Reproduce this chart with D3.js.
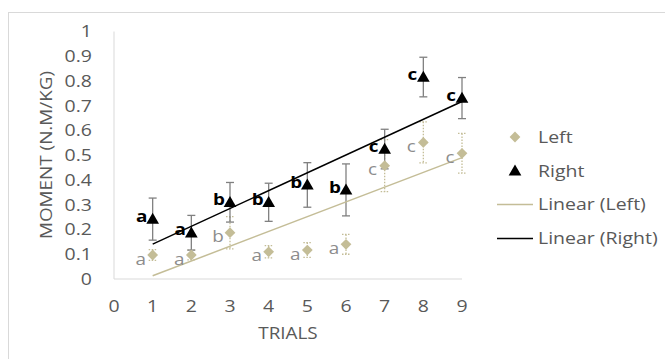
<!DOCTYPE html>
<html><head><meta charset="utf-8">
<script src="https://cdn.jsdelivr.net/npm/d3@7"></script>
<style>
html,body{margin:0;padding:0;background:#fff;}
svg{display:block;font-family:"Open Sans",sans-serif;}
</style></head>
<body>
<svg id="chart" width="665" height="359"></svg>
<script>
const trials = [1,2,3,4,5,6,7,8,9];
const leftValues = [0.097,0.097,0.187,0.11,0.117,0.14,0.458,0.552,0.508];
const leftErrors = [0.022,0.02,0.065,0.025,0.03,0.04,0.105,0.083,0.08];
const leftLabels = ["a","a","b","a","a","a","c","c","c"];
const rightValues = [0.242,0.187,0.31,0.31,0.38,0.36,0.525,0.816,0.731];
const rightErrors = [0.085,0.07,0.08,0.077,0.09,0.105,0.08,0.08,0.083];
const rightLabels = ["a","a","b","b","b","b","c","c","c"];
const xTicks = [0,1,2,3,4,5,6,7,8,9];
const yTicks = [0,0.1,0.2,0.3,0.4,0.5,0.6,0.7,0.8,0.9,1];
const legendItems = ["Left","Right","Linear (Left)","Linear (Right)"];

const tan = "#c4bd97", grayTxt = "#595959";
const svg = d3.select("#chart");
const STRETCH = 1.18;
function stretch(sel){
  sel.each(function(){
    const L=this.getComputedTextLength();
    d3.select(this).attr("textLength",L*STRETCH).attr("lengthAdjust","spacingAndGlyphs");
  });
}

svg.append("rect").attr("x",8.5).attr("y",12.5).attr("width",700).attr("height",400)
  .attr("fill","none").attr("stroke","#d9d9d9");

const x = d3.scaleLinear().domain([0,9]).range([114,462]);
const y = d3.scaleLinear().domain([0,1]).range([279,31.5]);

svg.append("line").attr("x1",x(0)).attr("x2",x(9)).attr("y1",y(0)).attr("y2",y(0)).attr("stroke","#d9d9d9");
svg.append("line").attr("x1",x(0)).attr("x2",x(0)).attr("y1",y(0)).attr("y2",y(1)).attr("stroke","#d9d9d9");

const fs = 16.5;
svg.selectAll(".yt").data(yTicks).join("text")
  .attr("x",92).attr("y",d=>y(d)).attr("dy","0.35em").attr("text-anchor","end")
  .attr("font-size",fs).attr("fill",grayTxt).text(d=>d3.format("")(d)).call(stretch);
svg.selectAll(".xt").data(xTicks).join("text")
  .attr("x",d=>x(d)).attr("y",306).attr("dy","0.35em").attr("text-anchor","middle")
  .attr("font-size",fs).attr("fill",grayTxt).text(d=>d).call(stretch);

svg.append("text").attr("transform","translate(46,155) rotate(-90)").attr("text-anchor","middle")
  .attr("dy","0.35em").attr("font-size",16).attr("fill",grayTxt).text("MOMENT (N.M/KG)").call(stretch);
svg.append("text").attr("x",288).attr("y",333).attr("dy","0.35em").attr("text-anchor","middle")
  .attr("font-size",16).attr("fill",grayTxt).text("TRIALS").call(stretch);

function fit(vals){
  const mx=d3.mean(trials), my=d3.mean(vals);
  const b=d3.sum(trials,(t,i)=>(t-mx)*(vals[i]-my))/d3.sum(trials,t=>(t-mx)**2);
  return t=>my+b*(t-mx);
}
const fl=fit(leftValues), fr=fit(rightValues);
const line = d3.line().x(d=>x(d[0])).y(d=>y(d[1]));
const ends=[trials[0],trials[trials.length-1]];

trials.forEach((t,i)=>{
  const g=svg.append("g").attr("stroke",tan).attr("stroke-width",1.3).attr("stroke-dasharray","1.5,1.5");
  g.append("line").attr("x1",x(t)).attr("x2",x(t)).attr("y1",y(leftValues[i]+leftErrors[i])).attr("y2",y(leftValues[i]-leftErrors[i]));
  [1,-1].forEach(s=>g.append("line").attr("x1",x(t)-4).attr("x2",x(t)+4)
    .attr("y1",y(leftValues[i]+s*leftErrors[i])).attr("y2",y(leftValues[i]+s*leftErrors[i])));
});
trials.forEach((t,i)=>{
  const g=svg.append("g").attr("stroke","#808080").attr("stroke-width",1.3);
  g.append("line").attr("x1",x(t)).attr("x2",x(t)).attr("y1",y(rightValues[i]+rightErrors[i])).attr("y2",y(rightValues[i]-rightErrors[i]));
  [1,-1].forEach(s=>g.append("line").attr("x1",x(t)-4).attr("x2",x(t)+4)
    .attr("y1",y(rightValues[i]+s*rightErrors[i])).attr("y2",y(rightValues[i]+s*rightErrors[i])));
});

svg.append("path").attr("d",line(ends.map(t=>[t,fl(t)]))).attr("stroke",tan).attr("stroke-width",1.5).attr("fill","none");
svg.append("path").attr("d",line(ends.map(t=>[t,fr(t)]))).attr("stroke","#000").attr("stroke-width",1.5).attr("fill","none");

const diamond = d3.symbol().type(d3.symbolSquare).size(58);
const tri = d3.symbol().type(d3.symbolTriangle).size(70);

svg.selectAll(".lm").data(trials).join("path")
  .attr("d",diamond).attr("fill",tan)
  .attr("transform",(t,i)=>`translate(${x(t)},${y(leftValues[i])}) rotate(45)`);
svg.selectAll(".rm").data(trials).join("path")
  .attr("d",tri).attr("fill","#000")
  .attr("transform",(t,i)=>`translate(${x(t)},${y(rightValues[i])+1})`);

svg.selectAll(".ll").data(trials).join("text")
  .attr("x",t=>x(t)-12).attr("y",(t,i)=>y(leftValues[i])+4).attr("dy","0.35em")
  .attr("text-anchor","middle").attr("font-size",16).attr("fill","#8c8c8c")
  .text((t,i)=>leftLabels[i]).call(stretch);
svg.selectAll(".rl").data(trials).join("text")
  .attr("x",t=>x(t)-11).attr("y",(t,i)=>y(rightValues[i])-3).attr("dy","0.35em")
  .attr("text-anchor","middle").attr("font-size",16).attr("font-weight","bold").attr("fill","#000")
  .text((t,i)=>rightLabels[i]).call(stretch);

const leg = svg.append("g");
legendItems.forEach((name,i)=>{
  const ly = 137 + i*33.8;
  if(i===0) leg.append("path").attr("d",diamond).attr("fill",tan).attr("transform",`translate(515,${ly}) rotate(45)`);
  if(i===1) leg.append("path").attr("d",tri).attr("fill","#000").attr("transform",`translate(515,${ly+1})`);
  if(i===2) leg.append("line").attr("x1",497).attr("x2",533).attr("y1",ly).attr("y2",ly).attr("stroke",tan).attr("stroke-width",1.5);
  if(i===3) leg.append("line").attr("x1",497).attr("x2",533).attr("y1",ly).attr("y2",ly).attr("stroke","#000").attr("stroke-width",1.5);
  leg.append("text").attr("x",538).attr("y",ly).attr("dy","0.35em").attr("font-size",16.5).attr("fill",grayTxt).text(name).call(stretch);
});
</script>
</body></html>
